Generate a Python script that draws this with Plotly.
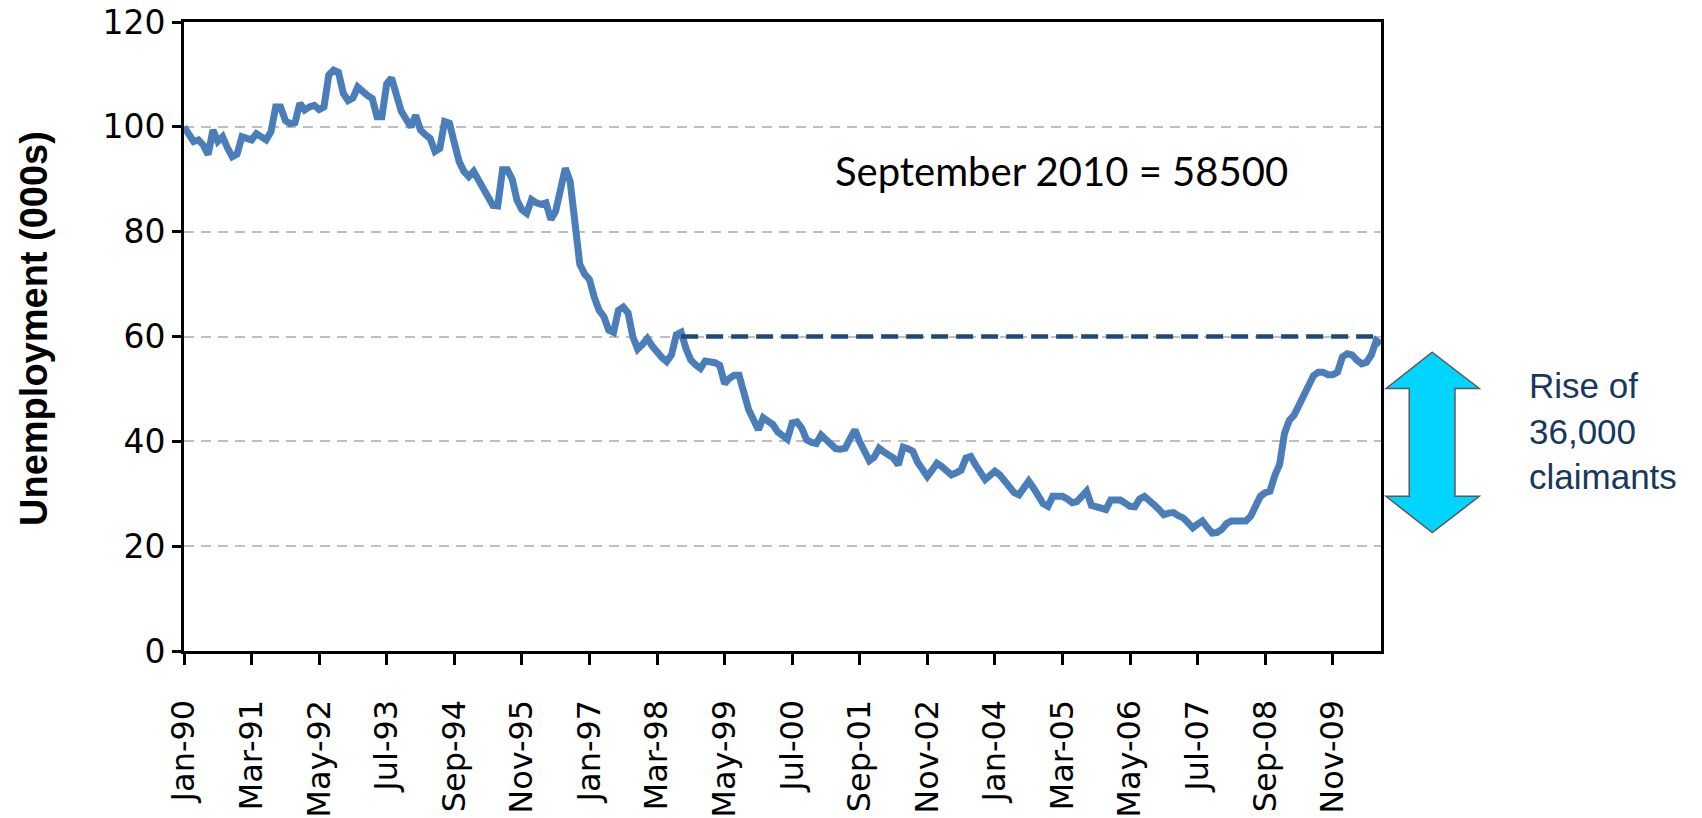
import pandas as pd
import plotly.graph_objects as go

# claimant count, thousands, monthly Jan-90 .. Sep-10
months = pd.date_range("1990-01-01", "2010-09-01", freq="MS").strftime("%b-%y").tolist()
unemployment = [
    100.0, 98.5, 97.2, 97.5, 96.5, 94.7, 99.4, 97.2, 98.1, 96.0,
    94.3, 94.8, 98.1, 97.8, 97.5, 98.7, 98.0, 97.5, 99.0, 103.8,
    103.8, 101.2, 100.6, 100.8, 104.5, 103.2, 103.8, 104.1, 103.3, 103.8,
    109.9, 110.8, 110.4, 106.4, 105.0, 105.5, 107.6, 106.6, 106.0, 105.4,
    101.9, 101.9, 108.2, 109.3, 106.5, 103.0, 101.5, 100.0, 102.2, 99.4,
    98.5, 97.8, 95.3, 95.9, 101.0, 100.7, 97.0, 93.4, 91.5, 90.5,
    91.5, 90.0, 88.6, 87.0, 85.0, 84.9, 91.8, 91.8, 90.0, 86.0,
    84.2, 83.5, 86.1, 85.5, 85.2, 85.5, 82.3, 83.9, 88.0, 92.1,
    89.6, 81.0, 73.8, 71.9, 70.9, 67.5, 65.0, 63.8, 61.2, 60.8,
    65.0, 65.6, 64.5, 59.9, 57.6, 58.5, 59.6, 58.2, 57.0, 56.0,
    55.2, 56.5, 60.3, 60.8, 57.7, 55.5, 54.6, 53.9, 55.3, 55.3,
    55.0, 54.5, 51.0, 52.0, 52.6, 52.6, 49.5, 46.0, 44.1, 42.2,
    44.5, 44.0, 43.2, 41.8, 41.0, 40.4, 43.5, 43.7, 42.5, 40.3,
    39.8, 39.6, 41.2, 40.3, 39.3, 38.6, 38.5, 38.7, 40.5, 42.2,
    39.9, 37.7, 36.3, 37.0, 38.7, 38.0, 37.4, 36.8, 35.5, 38.9,
    38.6, 38.1, 36.0, 34.5, 33.3, 34.5, 35.8, 35.2, 34.3, 33.6,
    34.0, 34.5, 36.8, 37.1, 35.5, 34.3, 32.7, 33.5, 34.3, 33.6,
    32.5, 31.3, 30.2, 29.8, 31.0, 32.4, 31.1, 29.5, 28.1, 27.6,
    29.5, 29.5, 29.5, 29.0, 28.3, 28.5, 29.5, 30.5, 27.8, 27.6,
    27.2, 27.0, 28.8, 28.8, 28.8, 28.2, 27.6, 27.5, 29.0, 29.5,
    28.5, 27.9, 27.0, 26.0, 26.3, 26.4, 25.8, 25.4, 24.5, 23.5,
    24.2, 24.8, 23.6, 22.5, 22.6, 23.2, 24.3, 24.8, 24.8, 24.8,
    24.8, 25.7, 27.8, 29.5, 30.2, 30.5, 33.5, 35.6, 41.5, 44.0,
    45.0, 46.9, 48.2, 50.0, 52.5, 53.2, 53.2, 52.7, 52.7, 53.2,
    56.1, 56.7, 56.5, 55.5, 54.8, 55.1, 56.5, 59.2, 58.6,
]
ref_start = "Aug-98"
ref_level = 60
tick_labels = months[::14]

fig = go.Figure()
fig.add_trace(go.Scatter(x=months, y=unemployment, mode="lines",
                         line=dict(color="#4A7EBB", width=7)))
fig.add_trace(go.Scatter(x=[ref_start, months[-1]], y=[ref_level, ref_level], mode="lines",
                         line=dict(color="#1F497D", width=4.5, dash="17px,8px")))

# double headed arrow to the right of the plot
top, bot, head = 57.0, 22.6, 6.9
xl, xsl, xc, xsr, xr = 1.0042, 1.0236, 1.0428, 1.0618, 1.0821
path = (f"M {xc},{top} L {xr},{top-head} L {xsr},{top-head} L {xsr},{bot+head} "
        f"L {xr},{bot+head} L {xc},{bot} L {xl},{bot+head} L {xsl},{bot+head} "
        f"L {xsl},{top-head} L {xl},{top-head} Z")
fig.add_shape(type="path", path=path, xref="paper", yref="y",
              fillcolor="#00D4FF", line=dict(color="#595959", width=1.5))

fig.add_annotation(text="September 2010 = 58500", xref="paper", yref="paper",
                   x=0.733, y=0.763, xanchor="center", yanchor="middle", showarrow=False,
                   font=dict(family="Lato", size=40, color="black"))
fig.add_annotation(text="Rise of<br>36,000<br>claimants", xref="paper", yref="paper",
                   x=1.122, y=0.349, xanchor="left", yanchor="middle", align="left",
                   showarrow=False, font=dict(family="Liberation Sans", size=35, color="#17375E"))
fig.add_annotation(text="<b>Unemployment (000s)</b>", xref="paper", yref="paper",
                   x=-0.1253, y=0.512, xanchor="center", yanchor="middle", textangle=-90,
                   showarrow=False, font=dict(family="Liberation Sans", size=38, color="black"))

fig.update_xaxes(type="category", range=[0, len(months) - 1],
                 tickvals=tick_labels, ticktext=tick_labels, tickangle=-90,
                 ticks="outside", ticklen=11, tickwidth=2.5, tickcolor="black",
                 ticklabelstandoff=22, automargin=False,
                 tickfont=dict(family="DejaVu Sans", size=32, color="black"),
                 showline=True, linecolor="black", linewidth=3, mirror=True,
                 showgrid=False, zeroline=False)
fig.update_yaxes(range=[0, 120], tickvals=[0, 20, 40, 60, 80, 100, 120],
                 ticks="outside", ticklen=9, tickwidth=2.5, tickcolor="black",
                 ticklabelstandoff=0, automargin=False,
                 tickfont=dict(family="DejaVu Sans", size=33, color="black"),
                 showline=True, linecolor="black", linewidth=3, mirror=True,
                 showgrid=True, gridcolor="#BFBFBF", gridwidth=2, griddash="10px,7px",
                 zeroline=False)
fig.update_layout(width=1702, height=818, showlegend=False,
                  margin=dict(l=184, r=321, t=22, b=167),
                  paper_bgcolor="white", plot_bgcolor="white")

fig.write_html("out.html", config={"displayModeBar": False},
               post_script="document.body.style.margin='0px';")
